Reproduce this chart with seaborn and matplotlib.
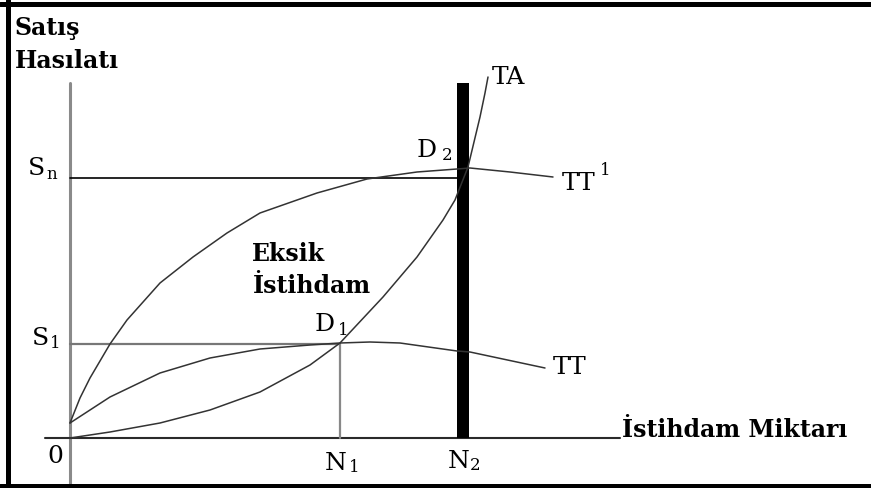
import numpy as np
import pandas as pd
import matplotlib.pyplot as plt
import seaborn as sns
from matplotlib.lines import Line2D

sns.set_theme(style="white")
plt.rcParams['font.family'] = ['DejaVu Serif']

# curves (x = employment, y = sales revenue)
tt_x = [0, 40, 90, 140, 190, 240, 270, 300, 330, 387, 400, 475]
tt_y = [15, 41, 65, 80, 89, 93, 95, 96, 95, 87, 86, 70]

tt1_x = [0, 10, 20, 40, 57, 90, 123, 157, 190, 247, 297, 347, 387, 400, 440, 483]
tt1_y = [15, 40, 60, 94, 118, 155, 181, 205, 225, 245, 259, 266, 269, 270, 266, 261]

ta_x = [0, 40, 90, 140, 190, 240, 270, 313, 347, 373, 385, 398, 410, 415, 418]
ta_y = [0, 6, 15, 28, 46, 73, 95, 141, 181, 218, 238, 271, 321, 345, 361]

# reference levels
s1, sn = 94, 260
n1, n2 = 270, 393
bar_top = 355

curves = pd.concat([
    pd.DataFrame({"x": tt_x, "y": tt_y, "curve": "TT"}),
    pd.DataFrame({"x": tt1_x, "y": tt1_y, "curve": "TT1"}),
    pd.DataFrame({"x": ta_x, "y": ta_y, "curve": "TA"}),
])

fig = plt.figure(figsize=(8.71, 4.88), dpi=100)
ax = fig.add_axes([0, 0, 1, 1])

# axes of the diagram
ax.plot([0, 0], [-50, bar_top], color="#8a8a8a", lw=2.2, zorder=1)
ax.plot([-25, 550], [0, 0], color="#2a2a2a", lw=1.5, zorder=1)

# guide lines
ax.plot([0, n2], [sn, sn], color="black", lw=1.2)
ax.plot([0, n1], [s1, s1], color="#777777", lw=1.6)
ax.plot([n1, n1], [0, s1], color="#888888", lw=1.6)

# full-employment bar at N2
ax.bar([n2], [bar_top], width=12, color="black", edgecolor="none", linewidth=0, zorder=3)

sns.lineplot(data=curves, x="x", y="y", units="curve", estimator=None,
             sort=False, color="#333333", lw=1.1, ax=ax, legend=False, zorder=4)
ax.set_xlim(-70, 801)
ax.set_ylim(-50, 438)
ax.set_xlabel("")
ax.set_ylabel("")
ax.axis("off")

reg = dict(fontsize=18, color="black", va="baseline")
sub = dict(fontsize=12, color="black", va="baseline")
bold = dict(fontsize=17, fontweight="bold", color="black", va="baseline")

ax.text(-55, 403, "Satış", **bold)
ax.text(-55, 370, "Hasılatı", **bold)
ax.text(182, 177, "Eksik", **bold)
ax.text(183, 145, "İstihdam", **bold)
ax.text(552, 1, "İstihdam Miktarı", **bold)

ax.text(-42, 263, "S", **reg)
ax.text(-24, 259, "n", **sub)
ax.text(-38, 93, "S", **reg)
ax.text(-20, 90, "1", **sub)
ax.text(-23, -25, "0", **reg)
ax.text(255, -32, "N", **reg)
ax.text(279, -34, "1", **sub)
ax.text(378, -30, "N", **reg)
ax.text(400, -32, "2", **sub)
ax.text(245, 107, "D", **reg)
ax.text(268, 103, "1", **sub)
ax.text(347, 281, "D", **reg)
ax.text(372, 278, "2", **sub)
ax.text(422, 354, "TA", **reg)
ax.text(492, 248, "TT", **reg)
ax.text(530, 263, "1", **sub)
ax.text(483, 64, "TT", **reg)

# picture frame (top, left, bottom edges)
for xs, ys in [([0, 1], [1 - 3.5 / 488] * 2),
               ([7.5 / 871] * 2, [0, 1]),
               ([0, 1], [2 / 488] * 2)]:
    fig.add_artist(Line2D(xs, ys, transform=fig.transFigure, color="black", lw=3.6))

fig.savefig("out.png", dpi=100, facecolor="white")
